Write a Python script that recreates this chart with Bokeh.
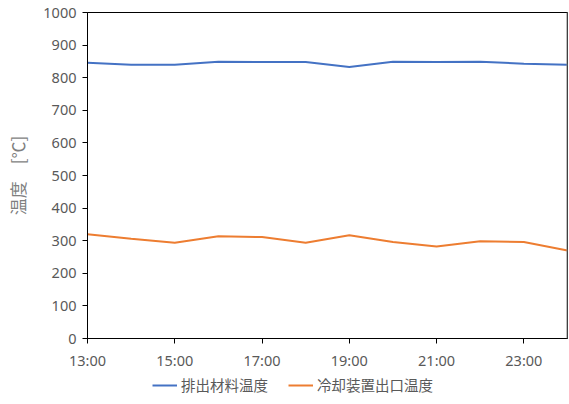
from bokeh.plotting import figure
from bokeh.layouts import column
from bokeh.models import FixedTicker, Legend, LegendItem, Span
from bokeh.embed import file_html
from bokeh.resources import INLINE

# hourly readings, 13:00 through 24:00
hours = [13, 14, 15, 16, 17, 18, 19, 20, 21, 22, 23, 24]
discharge_temp = [846, 840, 840, 849, 848, 848, 833, 849, 848, 849, 843, 840]
cooler_outlet_temp = [320, 306, 294, 314, 311, 294, 317, 296, 282, 298, 296, 270]

x_ticks = [13, 15, 17, 19, 21, 23]
x_tick_labels = ["13:00", "15:00", "17:00", "19:00", "21:00", "23:00"]
y_ticks = list(range(0, 1001, 100))

series_names = ["排出材料温度", "冷却装置出口温度"]
series_colors = ["#4472C4", "#ED7D31"]
series_values = [discharge_temp, cooler_outlet_temp]

TICK_FONT = "Noto Sans"
TEXT_GRAY = "#595959"

p = figure(
    frame_width=480, frame_height=326,
    x_range=(13, 24), y_range=(0, 1000),
    output_backend="svg", toolbar_location=None,
    min_border_left=87, min_border_right=2, min_border_top=12, min_border_bottom=32,
)
p.background_fill_color = "white"
p.border_fill_color = "white"
p.outline_line_color = "black"
p.outline_line_width = 1
p.xgrid.visible = False
p.ygrid.visible = False

for vals, color in zip(series_values, series_colors):
    p.line(hours, vals, line_color=color, line_width=2)

# right edge of the plot box
p.add_layout(Span(location=24, dimension="height", line_color="#808080", line_width=2))

for ax in (p.xaxis[0], p.yaxis[0]):
    ax.axis_line_color = "black"
    ax.major_tick_line_color = "black"
    ax.major_tick_in = 0
    ax.major_tick_out = 5
    ax.minor_tick_line_color = None
    ax.major_label_text_font = TICK_FONT
    ax.major_label_text_font_size = "14.5px"
    ax.major_label_text_color = TEXT_GRAY
    ax.major_label_standoff = 6

p.xaxis[0].ticker = FixedTicker(ticks=x_ticks)
p.xaxis[0].major_label_overrides = {t: lbl for t, lbl in zip(x_ticks, x_tick_labels)}
p.yaxis[0].ticker = FixedTicker(ticks=y_ticks)

p.yaxis[0].axis_label = "温度　[℃]"
p.yaxis[0].axis_label_text_font = "Noto Sans CJK JP"
p.yaxis[0].axis_label_text_font_size = "17px"
p.yaxis[0].axis_label_text_font_style = "normal"
p.yaxis[0].axis_label_text_color = "#7F7F7F"
p.yaxis[0].axis_label_standoff = 10

# legend strip under the chart; its view range keeps the key lines themselves off-screen
key = figure(
    width=569, height=34, x_range=(0, 1), y_range=(0, 1),
    x_axis_type=None, y_axis_type=None,
    output_backend="svg", toolbar_location=None, min_border=0,
)
key.outline_line_color = None
key.xgrid.visible = False
key.ygrid.visible = False
key_renderers = [key.line(hours, vals, line_color=c, line_width=2)
                 for vals, c in zip(series_values, series_colors)]

legend = Legend(
    items=[LegendItem(label=n, renderers=[r]) for n, r in zip(series_names, key_renderers)],
    orientation="horizontal",
    location=(65, 11),
    label_text_font="Noto Sans CJK JP",
    label_text_font_size="14.5px",
    label_text_color=TEXT_GRAY,
    glyph_width=25,
    label_standoff=4,
    spacing=20,
    padding=0,
    margin=0,
    border_line_color=None,
    background_fill_alpha=0,
)
key.add_layout(legend, "center")

open("out.html", "w").write(file_html(column(p, key, spacing=0), INLINE))
